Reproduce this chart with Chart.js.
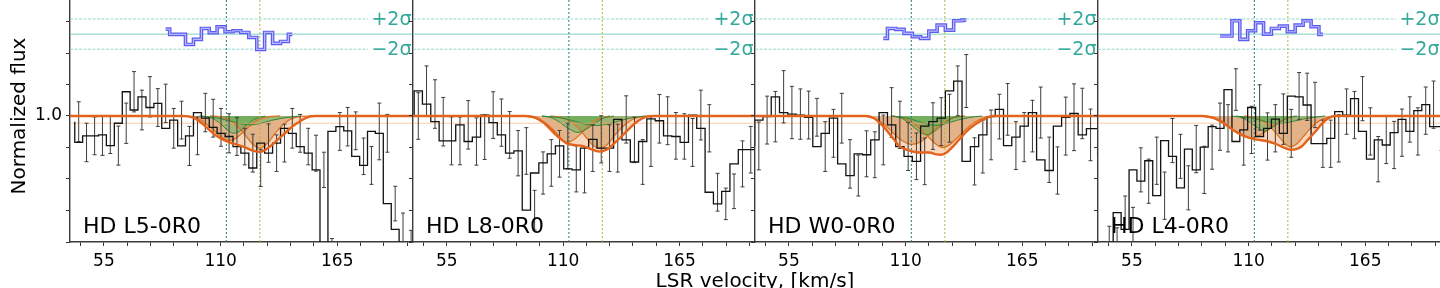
<!DOCTYPE html>
<html>
<head>
<meta charset="utf-8">
<script src="https://cdn.jsdelivr.net/npm/chart.js@4.4.1/dist/chart.umd.min.js"></script>
<style>
  html, body { margin: 0; padding: 0; background: #fff; width: 1440px; height: 288px; overflow: hidden; }
  #wrap { position: relative; width: 1440px; height: 288px; overflow: hidden; background: #fff; }
  #wrap canvas { position: absolute; }
  #xtitle { position: absolute; left: 555px; width: 400px; top: 270px; text-align: center;
            font-family: "DejaVu Sans"; font-size: 20px; line-height: 20px; color: #000; white-space: nowrap; }
</style>
</head>
<body>
<div id="wrap"><div id="xtitle">LSR velocity, [km/s]</div></div>
<script>
// ---------------- data ----------------
const X_MIN = 39, X_MAX = 200.7;
const Y_MIN = 0.6, Y_MAX = 1.4;
const xTickValues = [44, 55, 66, 77, 88, 99, 110, 121, 132, 143, 154, 165, 176, 187, 198];
const xTickLabelValues = [55, 110, 165];
const yTickValues = [0.6, 0.7, 0.8, 0.9, 1.0, 1.1, 1.2, 1.3, 1.4];
const yTickLabelValues = [1.0];
const panelNames = ['HD L5-0R0', 'HD L8-0R0', 'HD W0-0R0', 'HD L4-0R0'];
const lineVelocities = [112.7, 128.5];
const sigmaLevels = [2, 0, -2];
const sigmaLabels = ['+2σ', '', '−2σ'];
const residualZero = 1.26, residualSigmaUnit = 0.024;
const continuumLevel = 1.0, continuumLow = 0.977;

// panel 1
const velocity1 = [43.1, 46.8, 50.6, 54.3, 58.0, 61.8, 65.5, 69.2, 72.9, 76.7, 80.4, 84.1, 87.9, 91.6, 95.3, 99.1, 102.8, 106.5, 110.2, 114.0, 117.7, 121.4, 125.2, 128.9, 132.6, 136.4, 140.1, 143.8, 147.5, 151.3, 155.0, 158.7, 162.5, 166.2, 169.9, 173.7, 177.4, 181.1, 184.8, 188.6, 192.3, 196.0, 199.8];
const flux1 = [0.982, 0.916, 0.937, 0.937, 0.940, 0.906, 0.977, 1.077, 1.019, 1.061, 1.027, 1.040, 0.961, 0.987, 0.905, 0.937, 1.011, 0.993, 0.964, 0.945, 0.935, 0.903, 0.882, 0.835, 0.914, 0.882, 0.914, 0.961, 0.945, 0.903, 0.882, 0.829, 0.566, 0.951, 0.966, 0.953, 0.872, 0.843, 0.951, 0.945, 0.722, 0.640, 0.587];
const error1 = [0.063, 0.061, 0.060, 0.062, 0.059, 0.062, 0.064, 0.064, 0.063, 0.064, 0.060, 0.061, 0.063, 0.060, 0.062, 0.060, 0.061, 0.060, 0.060, 0.062, 0.060, 0.058, 0.060, 0.059, 0.061, 0.058, 0.060, 0.063, 0.060, 0.058, 0.057, 0.056, 0.045, 0.060, 0.061, 0.060, 0.058, 0.060, 0.090, 0.060, 0.055, 0.052, 0.050];
const residVel1 = [84.1, 87.9, 91.6, 95.3, 99.1, 102.8, 106.5, 110.2, 114.0, 117.7, 121.4, 125.2, 128.9, 132.6, 136.4, 140.1, 143.8];
const resid1 = [0.66, -0.04, -0.04, -1.37, -0.7, 0.75, 0.18, 0.97, 0.31, 0.44, 0.22, -0.44, -2.03, 0.22, -1.23, -0.97, -0.04];
const total1 = [[38, 1.0], [92, 1.0], [97, 0.995], [101, 0.978], [104, 0.96], [108, 0.937], [113, 0.919], [116, 0.912], [120.7, 0.903], [125.5, 0.889], [128.6, 0.886], [133.3, 0.903], [136.5, 0.922], [139.5, 0.94], [143, 0.962], [146, 0.977], [150.8, 0.996], [155, 1.0], [202, 1.0]];
const orangeA1 = [[92, 1.0], [97, 0.997], [101, 0.986], [104, 0.971], [107.5, 0.95], [111, 0.93], [114, 0.922], [117, 0.928], [120.5, 0.948], [124, 0.97], [128, 0.988], [133, 0.998], [138, 1.0]];
const orangeB1 = [[105, 1.0], [110, 0.997], [114, 0.988], [117.5, 0.97], [121, 0.945], [124.5, 0.915], [128.3, 0.898], [132, 0.913], [135.5, 0.943], [139, 0.97], [143, 0.99], [148, 0.999], [153, 1.0]];
const greenA1 = [[101, 1.0], [106, 0.993], [110, 0.975], [113, 0.957], [116, 0.945], [119, 0.952], [122, 0.97], [126, 0.99], [131, 1.0]];
const greenB1 = [[100, 1.0], [108, 0.994], [114, 0.985], [119, 0.976], [124, 0.972], [129, 0.977], [134, 0.986], [140, 0.994], [147, 1.0]];

// panel 2
const velocity2 = [41.5, 45.4, 49.4, 53.3, 57.2, 61.2, 65.1, 69.0, 72.9, 76.9, 80.8, 84.7, 88.7, 92.6, 96.5, 100.5, 104.4, 108.3, 112.2, 116.2, 120.1, 124.0, 128.0, 131.9, 135.8, 139.8, 143.7, 147.6, 151.5, 155.5, 159.4, 163.3, 167.3, 171.2, 175.1, 179.1, 183.0, 186.9, 190.8, 194.8, 198.7];
const flux2 = [1.000, 1.080, 1.038, 0.982, 0.921, 0.921, 0.972, 0.919, 0.933, 1.003, 0.979, 0.940, 0.882, 0.889, 0.701, 0.819, 0.851, 0.880, 0.905, 0.832, 0.829, 0.898, 0.926, 0.898, 0.898, 0.989, 0.924, 0.854, 0.919, 0.991, 0.985, 0.937, 0.935, 0.916, 1.003, 0.961, 0.758, 0.721, 0.761, 0.848, 0.893];
const error2 = [0.074, 0.079, 0.077, 0.077, 0.076, 0.076, 0.077, 0.075, 0.071, 0.074, 0.075, 0.074, 0.072, 0.074, 0.063, 0.067, 0.074, 0.074, 0.072, 0.073, 0.073, 0.074, 0.075, 0.074, 0.076, 0.075, 0.072, 0.071, 0.079, 0.077, 0.076, 0.074, 0.072, 0.076, 0.079, 0.075, 0.060, 0.050, 0.055, 0.073, 0.074];
const total2 = [[38, 1.0], [92, 1.0], [97, 0.995], [101, 0.979], [105, 0.955], [108.5, 0.93], [111.5, 0.914], [115, 0.908], [119, 0.905], [123, 0.895], [127, 0.887], [130.5, 0.893], [134, 0.912], [138, 0.938], [142, 0.965], [145.5, 0.985], [149, 0.997], [153, 1.0], [202, 1.0]];
const orangeA2 = [[91, 1.0], [96, 0.995], [100, 0.98], [103.5, 0.958], [107, 0.935], [111.7, 0.916], [115.5, 0.927], [119, 0.948], [122.5, 0.972], [126.5, 0.99], [132, 1.0]];
const orangeB2 = [[104, 1.0], [109, 0.996], [113, 0.985], [117, 0.963], [120.5, 0.935], [124, 0.908], [127.5, 0.897], [131, 0.91], [134.5, 0.94], [138.5, 0.968], [142.5, 0.988], [147, 0.998], [152, 1.0]];
const greenA2 = [[100, 1.0], [105, 0.993], [109, 0.977], [113, 0.958], [117, 0.948], [121, 0.958], [125, 0.977], [129, 0.993], [134, 1.0]];
const greenB2 = [[100, 1.0], [108, 0.995], [114, 0.986], [120, 0.975], [126, 0.97], [132, 0.976], [138, 0.987], [143, 0.995], [149, 1.0]];

// panel 3
const velocity3 = [40.8, 44.7, 48.6, 52.5, 56.4, 60.4, 64.3, 68.2, 72.1, 76.0, 79.9, 83.8, 87.7, 91.6, 95.5, 99.5, 103.4, 107.3, 111.2, 115.1, 119.0, 122.9, 126.8, 130.7, 134.6, 138.6, 142.5, 146.4, 150.3, 154.2, 158.1, 162.0, 165.9, 169.8, 173.7, 177.7, 181.6, 185.5, 189.4, 193.3, 197.2, 201.1];
const flux3 = [0.905, 0.987, 0.998, 1.061, 1.011, 1.006, 1.003, 0.996, 0.903, 0.945, 0.993, 0.848, 0.811, 0.880, 0.877, 0.924, 1.011, 0.972, 0.903, 0.872, 0.856, 0.968, 0.982, 0.993, 1.080, 1.111, 0.856, 0.903, 0.940, 0.998, 1.021, 0.906, 0.933, 0.968, 1.011, 0.861, 0.827, 0.968, 0.996, 1.008, 0.940, 0.960];
const error3 = [0.076, 0.076, 0.080, 0.083, 0.083, 0.080, 0.076, 0.060, 0.079, 0.076, 0.079, 0.077, 0.065, 0.073, 0.073, 0.079, 0.079, 0.075, 0.076, 0.074, 0.074, 0.074, 0.076, 0.076, 0.079, 0.084, 0.075, 0.084, 0.079, 0.071, 0.082, 0.076, 0.078, 0.082, 0.081, 0.072, 0.075, 0.092, 0.106, 0.080, 0.082, 0.080];
const residVel3 = [99.5, 103.4, 107.3, 111.2, 115.1, 119.0, 122.9, 126.8, 130.7, 134.6, 138.6];
const resid3 = [-0.57, 0.75, 0.62, 0.09, -0.35, -0.57, 0.4, 1.2, 0.53, 1.76, 1.85];
const total3 = [[38, 1.0], [91, 1.0], [95, 0.993], [99, 0.97], [104, 0.93], [107, 0.905], [110.3, 0.893], [115, 0.885], [118.5, 0.884], [121.3, 0.884], [124, 0.879], [126.8, 0.877], [129.5, 0.885], [132.3, 0.903], [135.5, 0.927], [138.6, 0.95], [142.5, 0.972], [146.5, 0.988], [151, 1.0], [202, 1.0]];
const orangeA3 = [[91, 1.0], [96, 0.991], [100, 0.973], [104, 0.947], [108, 0.923], [113, 0.91], [117.5, 0.92], [121, 0.94], [124.5, 0.962], [128.5, 0.983], [133, 0.996], [138, 1.0]];
const orangeB3 = [[104, 1.0], [109, 0.993], [113, 0.978], [117, 0.958], [121, 0.932], [124.5, 0.91], [127.5, 0.9], [131, 0.91], [134.5, 0.932], [138.5, 0.958], [142.5, 0.98], [147, 0.994], [151, 1.0]];
const greenA3 = [[103, 1.0], [108, 0.993], [112, 0.975], [116, 0.953], [120, 0.94], [124, 0.953], [128, 0.975], [132, 0.993], [137, 1.0]];
const greenB3 = [[103, 1.0], [110, 0.994], [115, 0.985], [120, 0.975], [124, 0.97], [129, 0.976], [134, 0.986], [140, 0.995], [146, 1.0]];

// panel 4
const velocity4 = [44.3, 48.0, 51.8, 55.5, 59.2, 62.9, 66.7, 70.4, 74.1, 77.9, 81.6, 85.3, 89.1, 92.8, 96.5, 100.3, 104.0, 107.7, 111.4, 115.2, 118.9, 122.6, 126.4, 130.1, 133.8, 137.6, 141.3, 145.0, 148.7, 152.5, 156.2, 159.9, 163.7, 167.4, 171.1, 174.9, 178.6, 182.3, 186.0, 189.8, 193.5, 197.2, 201.0];
const flux4 = [0.580, 0.575, 0.693, 0.640, 0.829, 0.793, 0.858, 0.747, 0.922, 0.872, 0.772, 0.895, 0.829, 0.901, 0.966, 0.961, 1.084, 0.919, 0.956, 1.027, 0.935, 0.961, 0.990, 0.945, 1.063, 1.061, 1.035, 0.912, 0.912, 0.929, 1.014, 1.003, 1.055, 0.951, 0.863, 0.924, 0.908, 0.947, 0.989, 0.951, 1.017, 1.036, 0.966];
const error4 = [0.070, 0.070, 0.053, 0.070, 0.070, 0.070, 0.075, 0.075, 0.070, 0.070, 0.070, 0.075, 0.075, 0.070, 0.075, 0.075, 0.066, 0.075, 0.075, 0.072, 0.075, 0.075, 0.080, 0.076, 0.075, 0.075, 0.072, 0.075, 0.075, 0.075, 0.072, 0.075, 0.070, 0.075, 0.072, 0.075, 0.075, 0.075, 0.072, 0.075, 0.075, 0.075, 0.075];
const residVel4 = [96.5, 100.3, 104.0, 107.7, 111.4, 115.2, 118.9, 122.6, 126.4, 130.1, 133.8, 137.6, 141.3, 145.0];
const resid4 = [-0.26, -0.26, 1.76, -0.7, 0.44, 1.5, 0, 0.75, 1.06, 0.31, 1.19, 1.76, 0.97, -0.04];
const total4 = [[38, 1.0], [88, 1.0], [93, 0.995], [97, 0.983], [100.5, 0.966], [104.5, 0.948], [108.3, 0.935], [113, 0.926], [116, 0.923], [119.3, 0.919], [122.5, 0.912], [125.6, 0.903], [129.6, 0.893], [132.5, 0.895], [135, 0.903], [138, 0.925], [141.4, 0.95], [144.5, 0.975], [147.6, 0.993], [151, 1.0], [202, 1.0]];
const orangeA4 = [[88, 1.0], [93, 0.994], [98, 0.978], [102, 0.96], [106, 0.942], [111, 0.931], [115, 0.938], [119, 0.955], [123, 0.975], [127, 0.99], [132, 1.0]];
const orangeB4 = [[108, 1.0], [113, 0.995], [117, 0.983], [121, 0.96], [124.5, 0.933], [127, 0.913], [129.6, 0.902], [132.5, 0.91], [135.5, 0.932], [139, 0.96], [143, 0.983], [147, 0.995], [151, 1.0]];
const greenA4 = [[102, 1.0], [107, 0.994], [111, 0.978], [114.5, 0.962], [117.5, 0.953], [121, 0.963], [124.5, 0.979], [128.5, 0.994], [133, 1.0]];
const greenB4 = [[104, 1.0], [111, 0.994], [116, 0.986], [120, 0.979], [124, 0.976], [129, 0.98], [134, 0.988], [140, 0.995], [146, 1.0]];

const panels = [
  { vel: velocity1, flux: flux1, err: error1, residVel: residVel1, resid: resid1, total: total1, orange: [orangeA1, orangeB1], green: [greenA1, greenB1] },
  { vel: velocity2, flux: flux2, err: error2, residVel: null, resid: null, total: total2, orange: [orangeA2, orangeB2], green: [greenA2, greenB2] },
  { vel: velocity3, flux: flux3, err: error3, residVel: residVel3, resid: resid3, total: total3, orange: [orangeA3, orangeB3], green: [greenA3, greenB3] },
  { vel: velocity4, flux: flux4, err: error4, residVel: residVel4, resid: resid4, total: total4, orange: [orangeA4, orangeB4], green: [greenA4, greenB4] }
];

// ---------------- layout / style ----------------
const panelGeometry = [
  { left: 70, width: 343 }, { left: 413, width: 342 }, { left: 755, width: 343 }, { left: 1098, width: 343 }
];
const FONT = 'DejaVu Sans';
Chart.defaults.font.family = FONT;
const lineColors = ['rgb(45,120,130)', 'rgb(185,175,70)'];

function pts(arr) { return arr.map(p => ({ x: p[0], y: p[1] })); }
function stepEdges(v) {
  const e = [v[0] - (v[1] - v[0]) / 2];
  for (let i = 1; i < v.length; i++) e.push((v[i - 1] + v[i]) / 2);
  e.push(v[v.length - 1] + (v[v.length - 1] - v[v.length - 2]) / 2);
  return e;
}

const decorPlugin = {
  id: 'decor',
  afterDatasetsDraw(chart, args, opts) {
    const { ctx, chartArea: a, scales: { y } } = chart;
    ctx.save();
    ctx.beginPath(); ctx.rect(a.left, a.top, a.right - a.left, a.bottom - a.top); ctx.clip();
    ctx.font = '19px "' + FONT + '"';
    ctx.textAlign = 'right'; ctx.textBaseline = 'middle';
    sigmaLevels.forEach((s, k) => {
      const t = sigmaLabels[k];
      if (!t) return;
      const yy = y.getPixelForValue(residualZero + s * residualSigmaUnit);
      const w = ctx.measureText(t).width;
      ctx.fillStyle = '#fff';
      ctx.fillRect(a.right - w - 5, yy - 8, w + 5, 16);
      ctx.fillStyle = '#33a99b';
      ctx.fillText(t, a.right - 1.5, yy + 1);
    });
    ctx.font = '22px "' + FONT + '"';
    ctx.textAlign = 'left'; ctx.textBaseline = 'alphabetic'; ctx.fillStyle = '#000';
    ctx.fillText(opts.name, a.left + 13, a.bottom - 9);
    ctx.restore();
  }
};

function buildDatasets(P) {
  const ds = [];
  sigmaLevels.forEach(s => {
    const yv = residualZero + s * residualSigmaUnit;
    ds.push({ data: [{ x: X_MIN, y: yv }, { x: X_MAX, y: yv }], borderColor: s === 0 ? '#7fd0c3' : '#8fd8cc',
      borderWidth: 1, borderDash: s === 0 ? [] : [3, 1.5], pointRadius: 0, fill: false, order: 100 });
  });
  ds.push({ data: pts(P.total), fill: { value: continuumLevel }, backgroundColor: 'rgba(240,150,80,0.38)',
    borderColor: 'rgba(0,0,0,0)', borderWidth: 1, pointRadius: 0, cubicInterpolationMode: 'monotone', order: 90 });
  P.orange.forEach(c => ds.push({ data: pts(c), fill: { value: continuumLevel }, backgroundColor: 'rgba(185,115,45,0.36)',
    borderColor: '#dc7424', borderWidth: 1.3, pointRadius: 0, cubicInterpolationMode: 'monotone', order: 80 }));
  P.green.forEach(c => ds.push({ data: pts(c), fill: { value: continuumLevel }, backgroundColor: 'rgba(70,185,90,0.42)',
    borderColor: '#2b8a3c', borderWidth: 1, pointRadius: 0, cubicInterpolationMode: 'monotone', order: 75 }));
  ds.push({ data: [{ x: X_MIN, y: continuumLow }, { x: X_MAX, y: continuumLow }], borderColor: 'rgba(250,170,110,0.6)',
    borderWidth: 1, pointRadius: 0, fill: false, order: 70 });
  lineVelocities.forEach((lv, k) => ds.push({ data: [{ x: lv, y: Y_MIN }, { x: lv, y: Y_MAX }], borderColor: lineColors[k],
    borderWidth: 1, borderDash: [2, 2], pointRadius: 0, fill: false, order: 60 }));
  const eb = [], caps = [];
  P.flux.forEach((f, i) => {
    const v = P.vel[i], e = P.err[i];
    eb.push({ x: v, y: f - e }, { x: v, y: f + e }, { x: v, y: null });
    caps.push({ x: v, y: f - e }, { x: v, y: f + e });
  });
  ds.push({ data: eb, borderColor: '#3d3d3d', borderWidth: 1, pointRadius: 0, spanGaps: false, fill: false, order: 42 });
  ds.push({ data: caps, showLine: false, pointStyle: 'line', pointRadius: 2, pointBorderColor: '#3d3d3d',
    pointBackgroundColor: '#3d3d3d', pointBorderWidth: 1, fill: false, order: 41 });
  const edges = stepEdges(P.vel);
  const hist = P.flux.map((f, i) => ({ x: edges[i], y: f }));
  hist.push({ x: edges[P.flux.length], y: P.flux[P.flux.length - 1] });
  ds.push({ data: hist, stepped: 'after', borderColor: '#111', borderWidth: 1.3, pointRadius: 0, fill: false, order: 40 });
  ds.push({ data: pts(P.total), borderColor: '#e4631c', borderWidth: 2.4, pointRadius: 0,
    cubicInterpolationMode: 'monotone', fill: false, order: 20 });
  if (P.residVel) {
    const rd = P.residVel.map((v, i) => ({ x: v, y: residualZero + P.resid[i] * residualSigmaUnit }));
    ds.push({ data: rd, stepped: 'middle', borderColor: '#5c5cf0', borderWidth: 3.6, pointRadius: 0, fill: false, order: 11 });
    ds.push({ data: rd, stepped: 'middle', borderColor: '#b9b9ff', borderWidth: 1.2, pointRadius: 0, fill: false, order: 10 });
  }
  return ds;
}

const wrap = document.getElementById('wrap');
panels.forEach((P, idx) => {
  const g = panelGeometry[idx];
  const axisW = idx === 0 ? 70 : 12;
  const canvas = document.createElement('canvas');
  const cw = g.width + axisW, ch = 298;
  canvas.width = cw; canvas.height = ch;
  canvas.style.width = cw + 'px'; canvas.style.height = ch + 'px';
  canvas.style.left = (g.left - axisW) + 'px'; canvas.style.top = '-10px';
  wrap.insertBefore(canvas, document.getElementById('xtitle'));
  const showY = idx === 0;
  new Chart(canvas, {
    type: 'line',
    data: { datasets: buildDatasets(P) },
    plugins: [decorPlugin],
    options: {
      responsive: false, animation: false, events: [],
      layout: { padding: 0, autoPadding: false },
      plugins: { legend: { display: false }, tooltip: { enabled: false },
        filler: { drawTime: 'beforeDatasetsDraw' }, decor: { name: panelNames[idx] } },
      scales: {
        x: {
          type: 'linear', position: 'bottom', min: X_MIN, max: X_MAX,
          afterBuildTicks: s => { s.ticks = xTickValues.map(v => ({ value: v })); },
          afterFit: s => { s.height = 46; s.paddingLeft = 0; s.paddingRight = 0; s.paddingTop = 0; s.paddingBottom = 0; },
          ticks: { autoSkip: false, maxRotation: 0, padding: 5, color: '#000', font: { family: FONT, size: 17 },
            callback: v => xTickLabelValues.some(t => Math.abs(t - v) < 1e-6) ? String(v) : '' },
          grid: { drawOnChartArea: false, drawTicks: true, tickLength: 4, color: '#333', tickColor: '#333', tickWidth: 1 },
          border: { display: true, color: '#3a3a3a', width: 1.4 }
        },
        y: {
          type: 'linear', position: 'left', min: Y_MIN, max: Y_MAX,
          afterBuildTicks: s => { s.ticks = yTickValues.map(v => ({ value: v })); },
          afterFit: s => { s.width = axisW; s.paddingLeft = 0; s.paddingRight = 0; s.paddingTop = 0; s.paddingBottom = 0; },
          ticks: { padding: 4, color: '#000', font: { family: FONT, size: 17 },
            callback: v => (showY && yTickLabelValues.some(t => Math.abs(t - v) < 1e-6)) ? v.toFixed(1) : '' },
          title: { display: showY, text: 'Normalized flux', color: '#000', font: { family: FONT, size: 20 }, padding: { top: 8, bottom: 0 } },
          grid: { drawOnChartArea: false, drawTicks: true, tickLength: 4, color: '#333', tickColor: '#333', tickWidth: 1 },
          border: { display: true, color: '#3a3a3a', width: 1.4 }
        }
      }
    }
  });
});
</script>
</body>
</html>
